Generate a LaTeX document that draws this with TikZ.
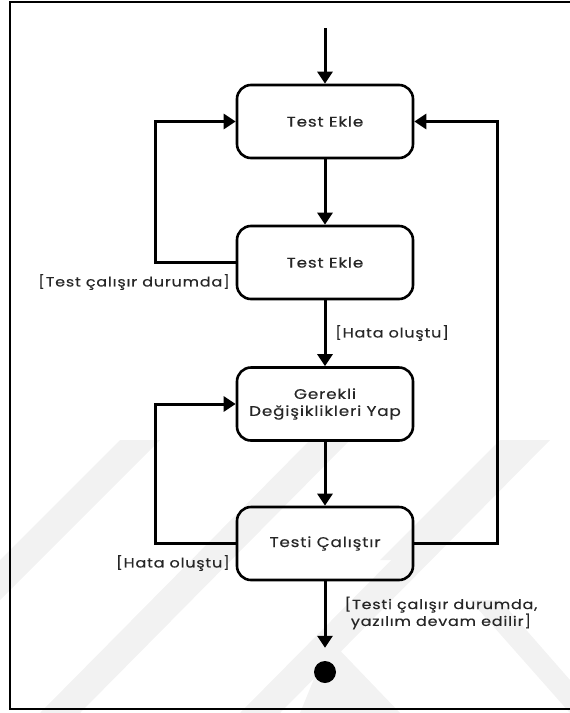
\documentclass[tikz,border=0pt]{standalone}
\usepackage{fontspec}
\setmainfont{Poppins}[FakeStretch=1.2,LetterSpace=6,FakeBold=0.4]
\usetikzlibrary{arrows.meta}
\begin{document}
\begin{tikzpicture}[x=1pt,y=-1pt,
  stepbox/.style={draw,line width=2.6pt,rounded corners=14pt,minimum width=176pt,
    minimum height=73pt,align=center,font=\fontsize{14}{17}\selectfont,text=black!85},
  flow/.style={line width=3pt,-{Triangle[width=15pt,length=12pt]}},
  guard/.style={font=\fontsize{13.3}{15.5}\selectfont,inner sep=0pt,text=black!85},
  band/.style={fill=black!5,draw=none}]
\useasboundingbox (0,0) rectangle (570,713);
\clip (0,0) rectangle (570,713);
% faint watermark bands
\fill[band] (0,560) -- (120,440) -- (160,440) -- (0,600) -- cycle;
\fill[band] (40,713) -- (310,440) -- (350,440) -- (80,713) -- cycle;
\fill[band] (240,713) -- (510,440) -- (550,440) -- (280,713) -- cycle;
\fill[band] (380,560) -- (500,440) -- (540,440) -- (420,560) -- cycle;
\fill[band] (300,713) -- (330,640) -- (400,713) -- cycle;
\fill[band] (470,600) -- (500,600) -- (570,680) -- (570,713) -- cycle;
% outer frame
\draw[line width=2pt] (10,2) rectangle (600,709);
% activities
\node[stepbox] (b1) at (325,121.5) {Test Ekle};
\node[stepbox] (b2) at (325,262.5) {Test Ekle};
\node[stepbox] (b3) at (325,404) {Gerekli\\Değişiklikleri Yap};
\node[stepbox] (b4) at (325,543.5) {Testi Çalıştır};
\coordinate (s) at (325,28);
\node[circle,fill=black,inner sep=0pt,minimum size=22pt] (e) at (325,672) {};
% flow
\draw[flow] (s) -- (b1.north);
\draw[flow] (b1.south) -- (b2.north);
\draw[flow] (b2.south) -- (b3.north);
\draw[flow] (b3.south) -- (b4.north);
\draw[flow,shorten >=13pt] (b4.south) -- (e.north);
% loops
\coordinate (l1) at (155,262.5);
\coordinate (l2) at (155,543.5);
\coordinate (r1) at (497,543.5);
\draw[flow] (b2.west) -- (l1) |- (b1.west);
\draw[flow] (b4.west) -- (l2) |- (b3.west);
\draw[flow] (b4.east) -- (r1) |- (b1.east);
% guards
\node[guard,anchor=east] (g1) at (230,282) {[Test çalışır durumda]};
\node[guard,anchor=west] (g2) at (335,333) {[Hata oluştu]};
\node[guard,anchor=east] (g3) at (230,563) {[Hata oluştu]};
\node[guard,align=center] (g4) at (441,613) {[Testi çalışır durumda,\\yazılım devam edilir]};
\end{tikzpicture}
\end{document}
